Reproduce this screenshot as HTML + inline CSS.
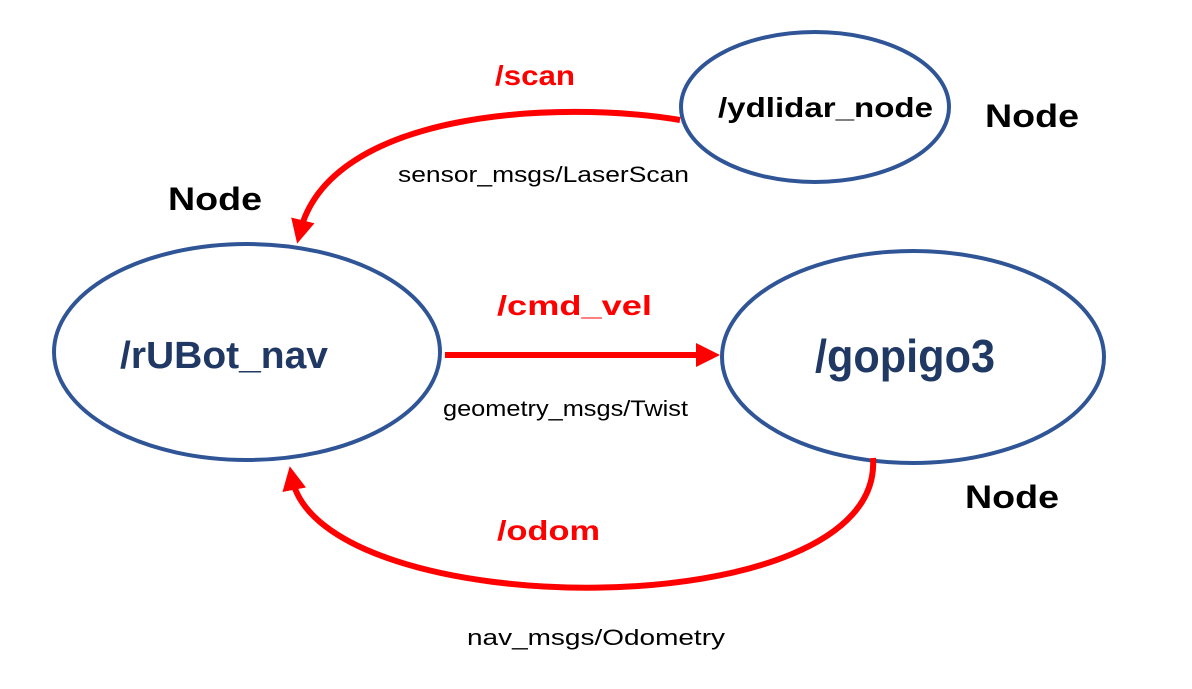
<!DOCTYPE html>
<html><head><meta charset="utf-8"><style>html,body{margin:0;padding:0;background:#fff}svg{display:block}text{font-family:"Liberation Sans",sans-serif}</style></head>
<body>
<svg width="1192" height="689" viewBox="0 0 1192 689" xmlns="http://www.w3.org/2000/svg">
<defs>
<marker id="ah" viewBox="0 0 10 10" refX="5" refY="5" markerWidth="4" markerHeight="4" orient="auto" markerUnits="strokeWidth"><path d="M0,0 L10,5 L0,10 z" fill="#FF0000"/></marker>
</defs>
<ellipse cx="815" cy="107" rx="134" ry="75" fill="#fff" stroke="#2F5597" stroke-width="4"/>
<ellipse cx="247" cy="352" rx="193" ry="108" fill="#fff" stroke="#2F5597" stroke-width="4"/>
<ellipse cx="913" cy="357" rx="191" ry="106" fill="#fff" stroke="#2F5597" stroke-width="4"/>
<path d="M680,120 C560,100 330,110 300,232" fill="none" stroke="#FF0000" stroke-width="6" marker-end="url(#ah)"/>
<path d="M445,355 L708,355" fill="none" stroke="#FF0000" stroke-width="6" marker-end="url(#ah)"/>
<path d="M873,458 C885,630 320,625 292,478" fill="none" stroke="#FF0000" stroke-width="6" marker-end="url(#ah)"/>
<g font-weight="bold" fill="#FF0000" font-size="28">
<text x="495" y="85" textLength="80" lengthAdjust="spacingAndGlyphs">/scan</text>
<text x="497" y="315" textLength="155" lengthAdjust="spacingAndGlyphs">/cmd_vel</text>
<text x="497" y="540" textLength="103" lengthAdjust="spacingAndGlyphs">/odom</text>
</g>
<g font-size="22" fill="#000">
<text x="398" y="182" textLength="291" lengthAdjust="spacingAndGlyphs">sensor_msgs/LaserScan</text>
<text x="443" y="416" textLength="245" lengthAdjust="spacingAndGlyphs">geometry_msgs/Twist</text>
<text x="467" y="645" textLength="258" lengthAdjust="spacingAndGlyphs">nav_msgs/Odometry</text>
</g>
<g font-weight="bold" font-size="32" fill="#000">
<text x="168" y="210" textLength="94" lengthAdjust="spacingAndGlyphs">Node</text>
<text x="985" y="127" textLength="94" lengthAdjust="spacingAndGlyphs">Node</text>
<text x="965" y="508" textLength="94" lengthAdjust="spacingAndGlyphs">Node</text>
</g>
<text x="718" y="117" font-weight="bold" font-size="28" fill="#000" textLength="215" lengthAdjust="spacingAndGlyphs">/ydlidar_node</text>
<text x="120" y="368" font-weight="bold" font-size="38" fill="#203864" textLength="208" lengthAdjust="spacingAndGlyphs">/rUBot_nav</text>
<text x="815" y="372" font-weight="bold" font-size="46" fill="#203864" textLength="180" lengthAdjust="spacingAndGlyphs">/gopigo3</text>
</svg>
</body></html>
